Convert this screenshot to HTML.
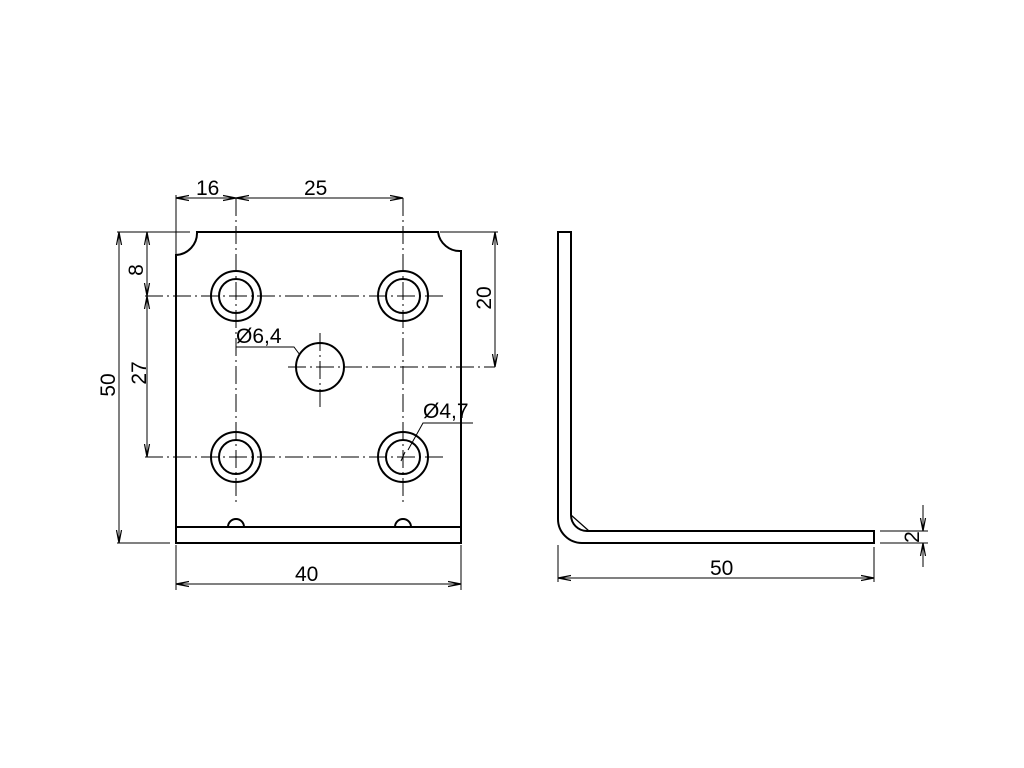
<!DOCTYPE html>
<html><head><meta charset="utf-8"><style>html,body{margin:0;padding:0;background:#fff}svg{display:block}</style></head>
<body>
<svg width="1024" height="768" viewBox="0 0 1024 768" xmlns="http://www.w3.org/2000/svg" font-family="Liberation Sans, sans-serif" font-size="21" fill="none" stroke="#000">
<defs>
<marker id="a" markerWidth="14" markerHeight="8" refX="13" refY="4" orient="auto-start-reverse" markerUnits="userSpaceOnUse"><path d="M0,1.5 L13,4 L0,6.5" fill="none" stroke="#000" stroke-width="1.2"/></marker>
</defs>
<g stroke-width="2">
<path d="M176,255 A22,22 0 0 0 197,232 L438,232 A22,22 0 0 0 461,251 L461,543 L176,543 Z"/>
<line x1="175" y1="527" x2="461" y2="527"/>
<path d="M228,527 A8,8 0 0 1 244,527"/>
<path d="M395,527 A8,8 0 0 1 411,527"/>
<circle cx="236" cy="296" r="25"/><circle cx="236" cy="296" r="17"/>
<circle cx="403" cy="296" r="25"/><circle cx="403" cy="296" r="17"/>
<circle cx="236" cy="457" r="25"/><circle cx="236" cy="457" r="17"/>
<circle cx="403" cy="457" r="25"/><circle cx="403" cy="457" r="17"/>
<circle cx="320" cy="367" r="24"/>
</g>
<g stroke-width="1" stroke-dasharray="18,4,2,4">
<line x1="145" y1="296" x2="445" y2="296"/>
<line x1="145" y1="457" x2="445" y2="457"/>
<line x1="236" y1="198" x2="236" y2="505"/>
<line x1="403" y1="198" x2="403" y2="505"/>
<line x1="288" y1="367" x2="495" y2="367"/>
<line x1="320" y1="333" x2="320" y2="407"/>
</g>
<g stroke-width="1">
<line x1="176" y1="195" x2="176" y2="255"/>
<line x1="176" y1="198" x2="236" y2="198" marker-start="url(#a)" marker-end="url(#a)"/>
<line x1="236" y1="198" x2="403" y2="198" marker-start="url(#a)" marker-end="url(#a)"/>
<line x1="117" y1="232" x2="190" y2="232"/>
<line x1="117" y1="543" x2="170" y2="543"/>
<line x1="119" y1="232" x2="119" y2="543" marker-start="url(#a)" marker-end="url(#a)"/>
<line x1="147" y1="232" x2="147" y2="296" marker-start="url(#a)" marker-end="url(#a)"/>
<line x1="147" y1="296" x2="147" y2="457" marker-start="url(#a)" marker-end="url(#a)"/>
<line x1="440" y1="232" x2="498" y2="232"/>
<line x1="495" y1="232" x2="495" y2="367" marker-start="url(#a)" marker-end="url(#a)"/>
<line x1="176" y1="545" x2="176" y2="590"/>
<line x1="461" y1="545" x2="461" y2="590"/>
<line x1="176" y1="584" x2="461" y2="584" marker-start="url(#a)" marker-end="url(#a)"/>
<polyline points="236,347 294,347 300,355"/>
<polyline points="473,423 423,423 408,450"/>
<line x1="405" y1="452" x2="401" y2="461" />
<line x1="316" y1="367" x2="324" y2="367"/>
</g>
<g stroke-width="2">
<path d="M558,232 L571,232 L571,515 A16,16 0 0 0 587,531 L874,531 L874,543 L582,543 A24,24 0 0 1 558,519 Z"/>
<line x1="571" y1="515" x2="589" y2="531" stroke-width="1.2"/>
</g>
<g stroke-width="1">
<line x1="558" y1="545" x2="558" y2="582"/>
<line x1="874" y1="547" x2="874" y2="582"/>
<line x1="558" y1="578" x2="874" y2="578" marker-start="url(#a)" marker-end="url(#a)"/>
<line x1="880" y1="531" x2="928" y2="531"/>
<line x1="880" y1="543" x2="928" y2="543"/>
<line x1="923" y1="505" x2="923" y2="531" marker-end="url(#a)"/>
<line x1="923" y1="567" x2="923" y2="543" marker-end="url(#a)"/>
</g>
<g fill="#000" stroke="none">
<text x="196" y="195">16</text>
<text x="304" y="195">25</text>
<text x="295" y="581">40</text>
<text x="710" y="575">50</text>
<text x="236" y="343">Ø6,4</text>
<text x="423" y="418">Ø4,7</text>
<text transform="translate(115,385) rotate(-90)" text-anchor="middle">50</text>
<text transform="translate(143,270) rotate(-90)" text-anchor="middle">8</text>
<text transform="translate(146,373) rotate(-90)" text-anchor="middle">27</text>
<text transform="translate(491,298) rotate(-90)" text-anchor="middle">20</text>
<text transform="translate(919,537) rotate(-90)" text-anchor="middle">2</text>
</g>
</svg>
</body></html>
